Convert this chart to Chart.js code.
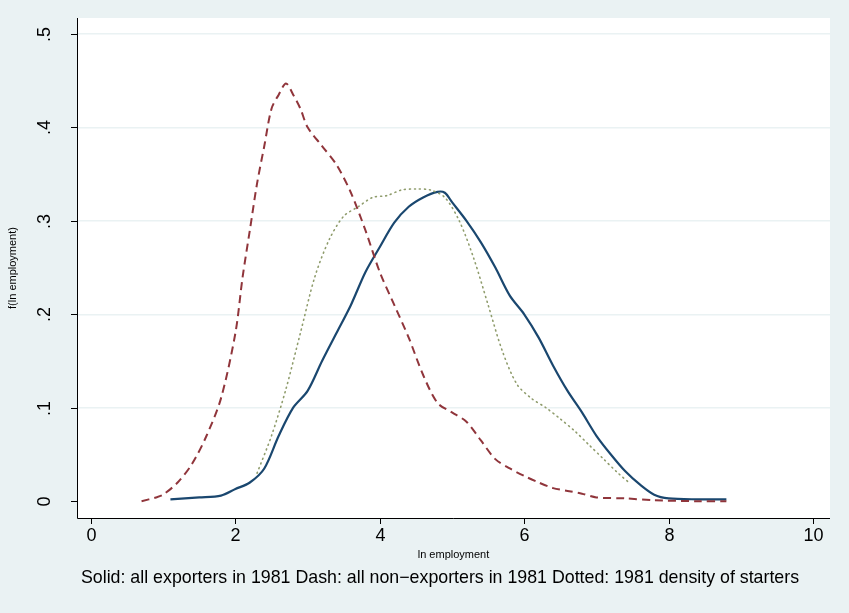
<!DOCTYPE html>
<html><head><meta charset="utf-8">
<script src="https://cdn.jsdelivr.net/npm/chart.js@4/dist/chart.umd.min.js"></script>
<style>html,body{margin:0;background:#eaf2f3}#c{display:block}</style>
</head><body>
<canvas id="c" width="849" height="613"></canvas>
<script>
// solid: all exporters in 1981
var solidX = [1.1,1.5,1.8,2.0,2.2,2.4,2.6,2.8,3.0,3.2,3.4,3.6,3.8,4.0,4.2,4.4,4.6,4.8,4.9,5.0,5.2,5.4,5.6,5.8,6.0,6.2,6.4,6.6,6.8,7.0,7.2,7.4,7.6,7.8,8.0,8.4,8.8];
var solidY = [0.002,0.004,0.006,0.013,0.02,0.035,0.07,0.1,0.118,0.15,0.18,0.21,0.245,0.272,0.298,0.315,0.325,0.331,0.33,0.32,0.3,0.277,0.25,0.22,0.2,0.175,0.145,0.118,0.095,0.07,0.05,0.032,0.018,0.007,0.003,0.002,0.002];
// dash: all non-exporters in 1981
var dashX = [0.7,0.9,1.0,1.2,1.4,1.6,1.8,2.0,2.1,2.2,2.3,2.4,2.5,2.6,2.7,2.8,2.9,3.0,3.2,3.4,3.6,3.8,4.0,4.2,4.4,4.6,4.8,5.0,5.2,5.4,5.6,5.8,6.0,6.2,6.4,6.6,6.8,7.0,7.4,7.8,8.4,8.8];
var dashY = [0,0.004,0.007,0.02,0.04,0.07,0.11,0.18,0.24,0.29,0.34,0.38,0.42,0.435,0.447,0.435,0.42,0.4,0.38,0.36,0.33,0.29,0.245,0.21,0.175,0.135,0.105,0.095,0.085,0.065,0.045,0.035,0.027,0.02,0.014,0.011,0.008,0.004,0.003,0.001,0,0];
// dotted: 1981 density of starters
var dotX = [2.3,2.5,2.7,2.9,3.1,3.3,3.5,3.7,3.9,4.1,4.3,4.5,4.7,4.9,5.1,5.3,5.5,5.7,5.9,6.1,6.3,6.5,6.7,6.9,7.1,7.3,7.45];
var dotY = [0.03,0.07,0.12,0.18,0.24,0.28,0.305,0.315,0.325,0.327,0.333,0.334,0.333,0.325,0.3,0.26,0.21,0.16,0.125,0.11,0.1,0.088,0.075,0.06,0.045,0.03,0.02];
var xTicks = [0,2,4,6,8,10];
var yTicks = [0,0.1,0.2,0.3,0.4,0.5];
var yTickLabels = ['0','.1','.2','.3','.4','.5'];

function pts(xs, ys){ return xs.map(function(x,i){ return {x:x, y:ys[i]}; }); }

var frame = {
  id:'frame',
  beforeDraw:function(ch){
    var c=ch.ctx, a=ch.chartArea;
    c.save(); c.fillStyle='#eaf2f3'; c.fillRect(0,0,ch.width,ch.height);
    c.fillStyle='#fff'; c.fillRect(a.left,a.top,a.right-a.left,a.bottom-a.top); c.restore();
  },
  afterDraw:function(ch){
    var c=ch.ctx, a=ch.chartArea, xs=ch.scales.x, ys=ch.scales.y;
    c.save(); c.strokeStyle='#000'; c.lineWidth=1; c.fillStyle='#000';
    c.beginPath(); c.moveTo(a.left+0.5,a.top); c.lineTo(a.left+0.5,a.bottom+0.5); c.lineTo(a.right,a.bottom+0.5); c.stroke();
    c.font='18px "Liberation Sans", Arial, sans-serif';
    c.textAlign='center'; c.textBaseline='middle';
    xTicks.forEach(function(t){ var px=Math.round(xs.getPixelForValue(t))+0.5;
      c.beginPath(); c.moveTo(px,a.bottom); c.lineTo(px,a.bottom+6); c.stroke();
      c.fillText(String(t),px,a.bottom+18); });
    yTicks.forEach(function(t,i){ var py=Math.round(ys.getPixelForValue(t))+0.5;
      c.beginPath(); c.moveTo(a.left-6,py); c.lineTo(a.left,py); c.stroke();
      c.save(); c.translate(a.left-32,py); c.rotate(-Math.PI/2); c.fillText(yTickLabels[i],0,0); c.restore(); });
    c.font='11px "Liberation Sans", Arial, sans-serif';
    c.fillText('ln employment',(a.left+a.right)/2,a.bottom+37);
    c.save(); c.translate(13,(a.top+a.bottom)/2); c.rotate(-Math.PI/2); c.fillText('f(ln employment)',0,0); c.restore();
    c.font='17.8px "Liberation Sans", Arial, sans-serif';
    c.fillText('Solid: all exporters in 1981 Dash: all non\u2212exporters in 1981 Dotted: 1981 density of starters',440,a.bottom+60);
    c.restore();
  }
};

new Chart(document.getElementById('c'), {
  type:'line',
  data:{datasets:[
    {data:pts(dotX,dotY), borderColor:'#8f9c6c', borderWidth:1.6, borderDash:[1,4], borderCapStyle:'round', pointRadius:0, tension:0.3},
    {data:pts(dashX,dashY), borderColor:'#90353b', borderWidth:2, borderDash:[8,5], pointRadius:0, tension:0.3},
    {data:pts(solidX,solidY), borderColor:'#1a476f', borderWidth:2.2, pointRadius:0, tension:0.3}
  ]},
  options:{
    responsive:false, animation:false, events:[],
    layout:{padding:{left:77,right:19,top:18,bottom:87}},
    plugins:{legend:{display:false}, tooltip:{enabled:false}},
    scales:{
      x:{type:'linear', min:-0.194, max:10.235, ticks:{display:false}, grid:{display:false}, border:{display:false},
         afterBuildTicks:function(s){ s.ticks=xTicks.map(function(v){return {value:v};}); }},
      y:{min:-0.018, max:0.517, ticks:{display:false}, grid:{color:'#eaf2f3', lineWidth:1.5, drawTicks:false}, border:{display:false},
         afterBuildTicks:function(s){ s.ticks=yTicks.slice(1).map(function(v){return {value:v};}); }}
    }
  },
  plugins:[frame]
});
</script>
</body></html>
